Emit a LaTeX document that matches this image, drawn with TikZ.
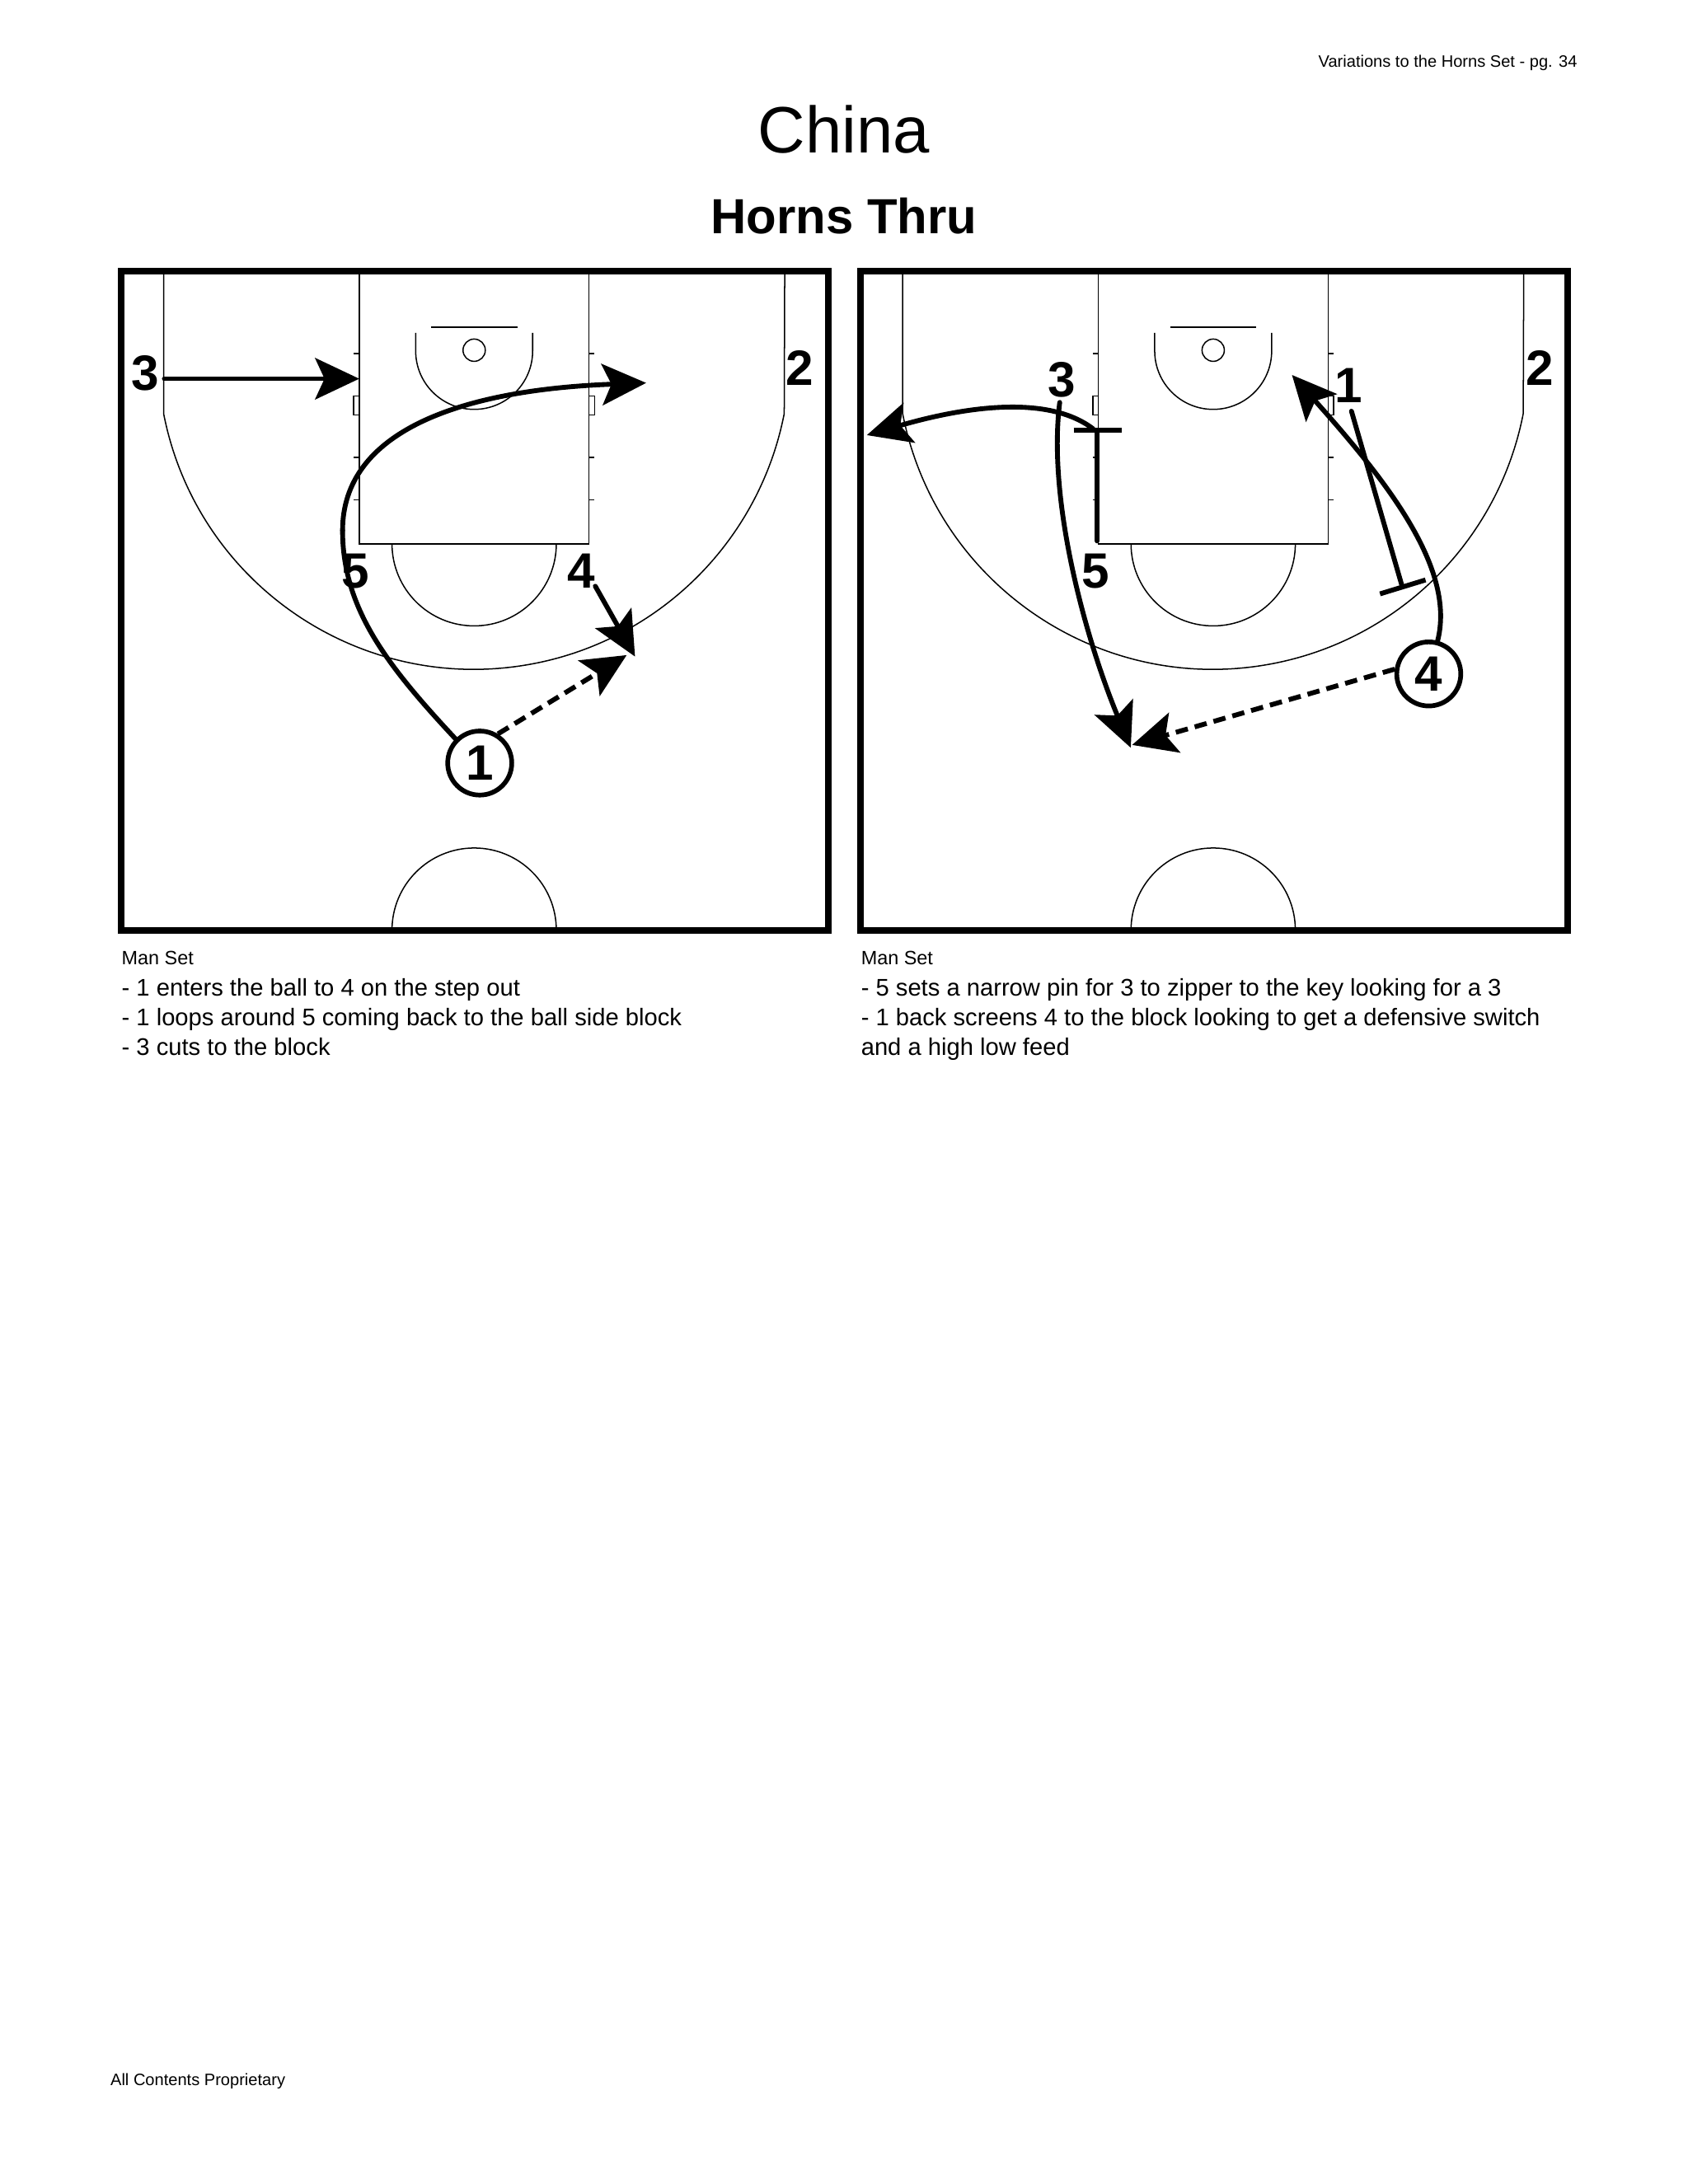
\documentclass[tikz,border=0pt]{standalone}
\usepackage{fontspec}
\setmainfont{Liberation Sans}
\usetikzlibrary{arrows.meta}
\newdimen\myu \myu=0.505pt
\tikzset{
  courtline/.style={line width=0.45pt,black},
  frameline/.style={line width=2.4pt,black},
  ply/.style={font=\fontsize{18}{18}\selectfont\bfseries,inner sep=0pt,anchor=center},
  plyc/.style={ply,circle,draw,line width=1.7pt,minimum size=46\myu},
  cut/.style={line width=1.75pt,line cap=round,-{Stealth[length=16pt,width=15pt,inset=3.4pt]}},
  pass/.style={cut,dash pattern=on 4.5pt off 2.6pt,line cap=butt},
  screenl/.style={line width=1.75pt,line cap=round},
  tbar/.style={line width=1.75pt},
  head/.style={inner sep=0pt,anchor=base west},
  small/.style={head,font=\fontsize{7}{8}\selectfont},
  body/.style={head,font=\fontsize{8.72}{10}\selectfont},
}
\newcommand{\courtdraw}{%
  \draw[frameline] (87,195) rectangle (595,668);
  \draw[courtline] (117.5,197) -- (117.5,297) arc[start angle=169,end angle=11,radius=227] -- (563.5,197);
  \draw[courtline] (258,197) -- (258,390.5) -- (423,390.5) -- (423,197);
  \draw[courtline] (281.5,390.5) arc[start angle=180,end angle=0,radius=59];
  \draw[courtline] (281.5,668) arc[start angle=180,end angle=360,radius=59];
  \draw[courtline] (309.5,235) -- (371.5,235);
  \draw[courtline] (340.5,251.5) circle[radius=8];
  \draw[courtline] (298.5,239) -- (298.5,252) arc[start angle=180,end angle=0,radius=42] -- (382.5,239);
  \foreach \yy in {254,328.5,359}{
    \draw[courtline] (254,\yy) -- (258,\yy);
    \draw[courtline] (423,\yy) -- (427,\yy);}
  \draw[courtline] (254,284.5) rectangle (258,298);
  \draw[courtline] (423,284.5) rectangle (427,298);
}
\begin{document}
\begin{tikzpicture}[x=0.505pt,y=-0.505pt]
\useasboundingbox[fill=white] (0,0) rectangle (1212,1568.5);
% texts
\node[inner sep=0pt,anchor=base east,font=\fontsize{6}{7}\selectfont] (hdr) at (1133,48) {Variations to the Horns Set - pg. 34};
\node[inner sep=0pt,anchor=base,font=\fontsize{23.8}{24}\selectfont] (ttl) at (606,110) {China};
\node[inner sep=0pt,anchor=base,font=\fontsize{17.9}{20}\selectfont\bfseries] (sub) at (606,168) {Horns Thru};
\node[inner sep=0pt,anchor=base west,font=\fontsize{6}{7}\selectfont] (ftr) at (79,1498) {All Contents Proprietary};
\node[small] (l0) at (87,693) {Man Set};
\node[body] (l1) at (87,715) {- 1 enters the ball to 4 on the step out};
\node[body] (l2) at (87,736.5) {- 1 loops around 5 coming back to the ball side block};
\node[body] (l3) at (87,758) {- 3 cuts to the block};
\node[small] (r0) at (618,693) {Man Set};
\node[body] (r1) at (618,715) {- 5 sets a narrow pin for 3 to zipper to the key looking for a 3};
\node[body] (r2) at (618,736.5) {- 1 back screens 4 to the block looking to get a defensive switch};
\node[body] (r3) at (618,758) {and a high low feed};
% left court
\courtdraw
\node[ply] (a3) at (104.5,268) {3};
\node[ply] (a2) at (574.5,264) {2};
\node[ply] (a5) at (255,410) {5};
\node[ply] (a4) at (417.5,410) {4};
\node[plyc] (a1) at (344.5,548) {1};
\coordinate (a3s) at (118,272);
\coordinate (a3e) at (258,272);
\coordinate (a4s) at (427.5,421);
\coordinate (a4e) at (456,471.5);
\coordinate (apass) at (450,470.5);
\coordinate (aloop) at (246,381);
\coordinate (aloope) at (464,275);
\draw[cut] (a3s) -- (a3e);
\draw[cut] (a4s) -- (a4e);
\draw[pass] (a1.58) -- (apass);
\draw[line width=1.75pt,line cap=round] (a1.135) .. controls (278,478) and (246,437) .. (aloop);
\draw[cut] (aloop) .. controls (246,310) and (330,280) .. (aloope);
% right court
\begin{scope}[shift={(530.7,0)}]
\courtdraw
\end{scope}
\node[ply] (b3) at (762.5,273) {3};
\node[ply] (b1) at (968.5,277) {1};
\node[ply] (b2) at (1105.5,264) {2};
\node[ply] (b5) at (786.5,410) {5};
\node[plyc] (b4) at (1026,484) {4};
\coordinate (b5s) at (788,388.5);
\coordinate (b5t) at (788,309);
\coordinate (b5l) at (771,309);
\coordinate (b5r) at (805.5,309);
\coordinate (b3a) at (785,308);
\coordinate (b3e) at (622.5,312.5);
\coordinate (b3s) at (761,289);
\coordinate (bz) at (812,537);
\coordinate (bpass) at (813,535);
\coordinate (b1e) at (927.8,269.3);
\coordinate (b1s) at (970.5,295.3);
\coordinate (b1t) at (1007,421.5);
\coordinate (b1l) at (991,426.5);
\coordinate (b1r) at (1023.7,416.5);
\draw[screenl] (b5s) -- (b5t);
\draw[tbar] (b5l) -- (b5r);
\draw[cut] (b3a) .. controls (755,285) and (700,290) .. (b3e);
\draw[cut] (b3s) .. controls (752,360) and (780,460) .. (bz);
\draw[pass] (b4.172) -- (bpass);
\draw[cut] (b4.75) .. controls (1045,410) and (1000,350) .. (b1e);
\draw[screenl] (b1s) -- (b1t);
\draw[tbar] (b1l) -- (b1r);
\end{tikzpicture}
\end{document}
